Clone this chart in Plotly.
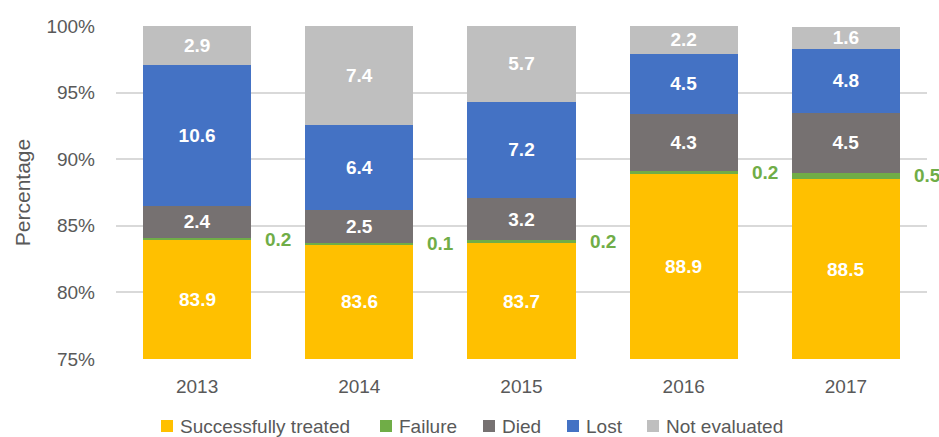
import plotly.graph_objects as go

years = ["2013", "2014", "2015", "2016", "2017"]
successfully_treated = [83.9, 83.6, 83.7, 88.9, 88.5]
failure = [0.2, 0.1, 0.2, 0.2, 0.5]
died = [2.4, 2.5, 3.2, 4.3, 4.5]
lost = [10.6, 6.4, 7.2, 4.5, 4.8]
not_evaluated = [2.9, 7.4, 5.7, 2.2, 1.6]

FONT = "Liberation Sans Narrow, Arial Narrow, Liberation Sans, Arial, sans-serif"
GREY_TEXT = "#595959"
Y_MIN = 75

W, H = 939, 437
M = dict(l=116, r=12, t=26, b=78)
PLOT_W = W - M["l"] - M["r"]
PLOT_H = H - M["t"] - M["b"]

series = [
    ("Successfully treated", successfully_treated, "#FFC000"),
    ("Failure", failure, "#70AD47"),
    ("Died", died, "#767171"),
    ("Lost", lost, "#4472C4"),
    ("Not evaluated", not_evaluated, "#BFBFBF"),
]

label_font = dict(family=FONT, size=19, color="white", weight="bold")

fig = go.Figure()
for name, vals, color in series:
    show_text = name not in ("Failure", "Successfully treated")
    fig.add_trace(go.Bar(
        x=years, y=vals, name=name,
        marker=dict(color=color, line=dict(width=0)),
        text=[f"{v:.1f}" for v in vals] if show_text else None,
        textposition="inside" if show_text else "none",
        insidetextanchor="middle",
        textangle=0,
        constraintext="none",
        textfont=label_font,
        hoverinfo="x+y+name",
        showlegend=False,
    ))

# bottom segment is mostly below the axis range, so centre its label on the visible part
for i, v in enumerate(successfully_treated):
    fig.add_annotation(
        x=i, y=(Y_MIN + v) / 2, text=f"<b>{v:.1f}</b>", showarrow=False,
        font=label_font,
    )

# failure labels sit in the gap to the right of each bar
for i, (b, f) in enumerate(zip(successfully_treated, failure)):
    fig.add_annotation(
        x=i + 0.5, y=b + f / 2, text=f"<b>{f:.1f}</b>", showarrow=False,
        font=dict(family=FONT, size=19, color="#70AD47"),
    )

# legend drawn by hand so plotly doesn't shrink the plot area to fit its box
legend_px = [161, 380, 483, 567, 647]   # left edge of each swatch, in pixels
legend_y = (H - M["b"] - 426) / PLOT_H
for (name, _, color), px in zip(series, legend_px):
    xs = (px + 6 - M["l"]) / PLOT_W
    fig.add_shape(
        type="rect", xref="paper", yref="paper",
        xsizemode="pixel", ysizemode="pixel",
        xanchor=xs, yanchor=legend_y, x0=-6, x1=6, y0=-6, y1=6,
        fillcolor=color, line=dict(width=0),
    )
    fig.add_annotation(
        xref="paper", yref="paper", x=xs, y=legend_y, xshift=11,
        xanchor="left", yanchor="middle", text=name, showarrow=False,
        font=dict(family=FONT, size=19, color=GREY_TEXT),
    )

fig.update_layout(
    barmode="stack",
    bargap=0.333,
    width=W, height=H,
    margin=M,
    plot_bgcolor="white", paper_bgcolor="white",
    font=dict(family=FONT, size=17, color=GREY_TEXT),
    showlegend=False,
)
fig.update_xaxes(
    showgrid=False, showline=False, ticks="",
    tickfont=dict(family=FONT, size=19, color=GREY_TEXT),
    ticklabelstandoff=14,
    range=[-0.5, 4.5],
)
fig.update_yaxes(
    range=[Y_MIN, 100], dtick=5, ticksuffix="%",
    showgrid=True, gridcolor="#D9D9D9", gridwidth=1.5,
    zeroline=False, showline=False,
    tickfont=dict(family=FONT, size=19, color=GREY_TEXT),
    ticklabelstandoff=20,
    title=dict(text="Percentage", font=dict(family=FONT, size=21, color=GREY_TEXT), standoff=10),
)

fig.write_html(
    "out.html",
    config={"displayModeBar": False},
    post_script="document.body.style.margin='0';",
)
